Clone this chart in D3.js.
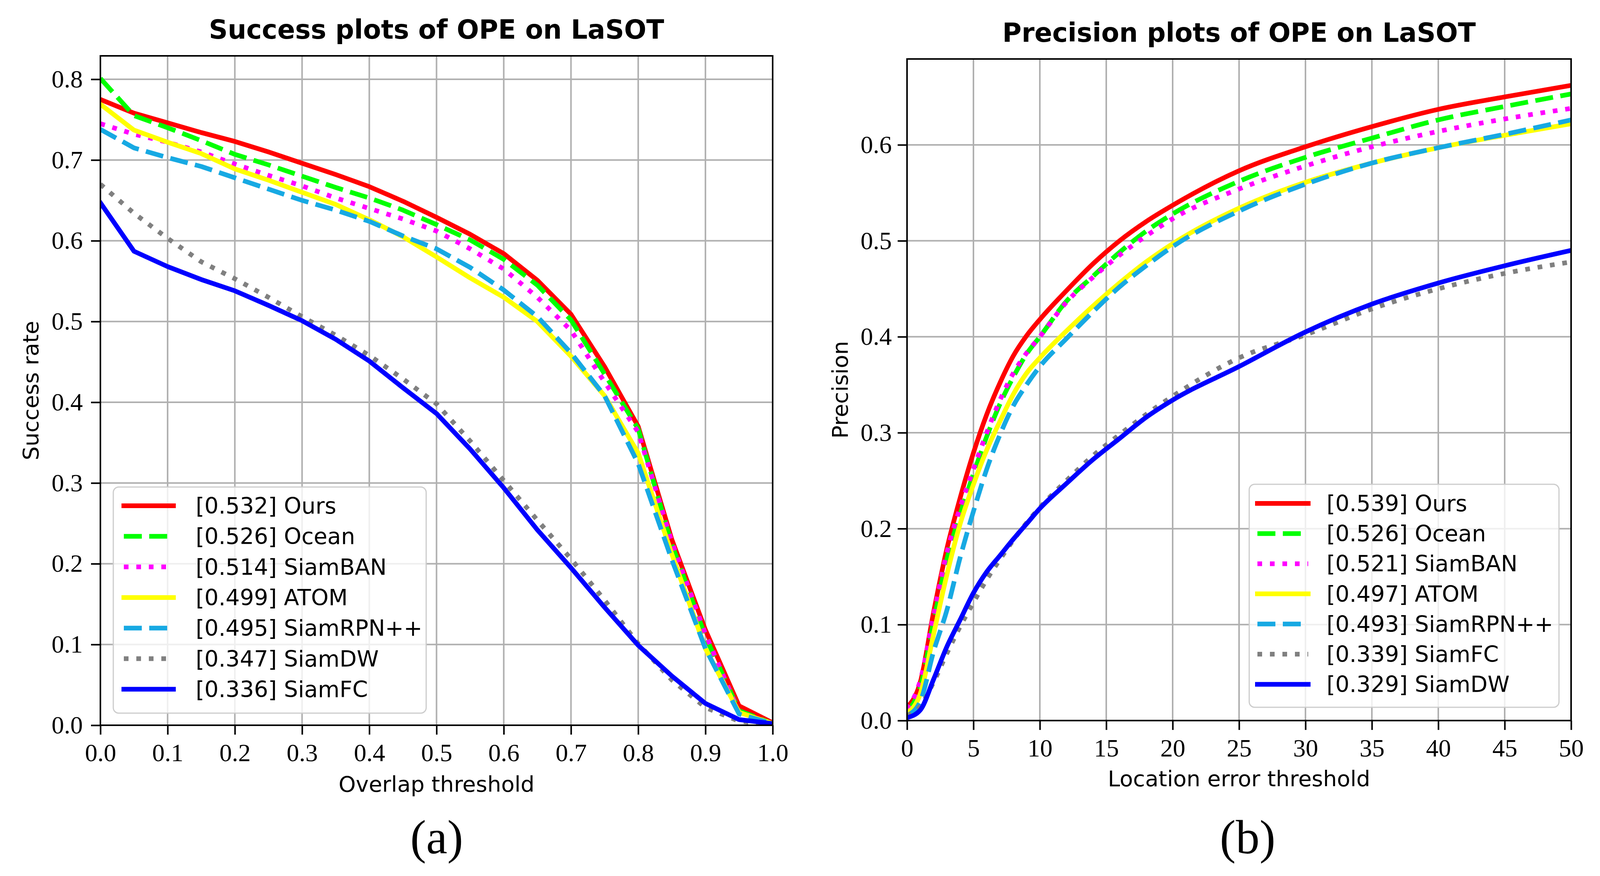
<!DOCTYPE html>
<html>
<head>
<meta charset="utf-8">
<script src="https://cdn.jsdelivr.net/npm/d3@7"></script>
<style>
  html, body { margin: 0; padding: 0; background: #fff; }
  svg { display: block; }
</style>
</head>
<body>
<div id="chart"></div>
<script>
// ---- data: success plot (overlap threshold) ----
const successThresholds = [0, 0.05, 0.1, 0.15, 0.2, 0.25, 0.3, 0.35, 0.4, 0.45, 0.5,
                           0.55, 0.6, 0.65, 0.7, 0.75, 0.8, 0.85, 0.9, 0.95, 1.0];
const successNames  = ["Ours", "Ocean", "SiamBAN", "ATOM", "SiamRPN++", "SiamDW", "SiamFC"];
const successScores = ["0.532", "0.526", "0.514", "0.499", "0.495", "0.347", "0.336"];
const succOurs    = [0.775, 0.758, 0.746, 0.734, 0.723, 0.710, 0.696, 0.682, 0.667, 0.649, 0.629, 0.608, 0.584, 0.551, 0.509, 0.444, 0.370, 0.230, 0.118, 0.024, 0.003];
const succOcean   = [0.801, 0.755, 0.740, 0.724, 0.707, 0.694, 0.680, 0.666, 0.653, 0.638, 0.620, 0.601, 0.577, 0.545, 0.502, 0.435, 0.367, 0.224, 0.110, 0.018, 0.002];
const succSiamBAN = [0.745, 0.732, 0.722, 0.710, 0.695, 0.681, 0.668, 0.653, 0.640, 0.627, 0.612, 0.590, 0.565, 0.530, 0.489, 0.425, 0.363, 0.227, 0.113, 0.016, 0.002];
const succATOM    = [0.769, 0.737, 0.722, 0.708, 0.689, 0.675, 0.660, 0.645, 0.626, 0.605, 0.580, 0.554, 0.530, 0.500, 0.457, 0.408, 0.337, 0.212, 0.095, 0.016, 0.002];
const succSiamRPN = [0.738, 0.715, 0.703, 0.692, 0.678, 0.664, 0.650, 0.638, 0.624, 0.606, 0.590, 0.567, 0.539, 0.506, 0.461, 0.408, 0.324, 0.205, 0.095, 0.014, 0.002];
const succSiamDW  = [0.670, 0.634, 0.603, 0.574, 0.553, 0.530, 0.506, 0.483, 0.458, 0.429, 0.398, 0.352, 0.303, 0.254, 0.206, 0.155, 0.101, 0.056, 0.022, 0.005, 0.001];
const succSiamFC  = [0.647, 0.587, 0.568, 0.552, 0.538, 0.520, 0.501, 0.478, 0.451, 0.418, 0.386, 0.342, 0.294, 0.242, 0.195, 0.146, 0.099, 0.061, 0.027, 0.007, 0.002];
const successXTicks = [0, 0.1, 0.2, 0.3, 0.4, 0.5, 0.6, 0.7, 0.8, 0.9, 1.0];
const successYTicks = [0, 0.1, 0.2, 0.3, 0.4, 0.5, 0.6, 0.7, 0.8];

// ---- data: precision plot (location error threshold) ----
const precThresholds = [0, 1, 2, 3, 4, 5, 6, 7, 8, 9, 10, 12, 14, 16, 18, 20, 25, 30, 35, 40, 45, 50];
const precNames  = ["Ours", "Ocean", "SiamBAN", "ATOM", "SiamRPN++", "SiamFC", "SiamDW"];
const precScores = ["0.539", "0.526", "0.521", "0.497", "0.493", "0.339", "0.329"];
const precOurs    = [0.014, 0.040, 0.113, 0.179, 0.232, 0.279, 0.319, 0.352, 0.380, 0.401, 0.418, 0.448, 0.476, 0.500, 0.520, 0.537, 0.573, 0.598, 0.619, 0.637, 0.650, 0.662];
const precOcean   = [0.010, 0.035, 0.103, 0.168, 0.215, 0.257, 0.296, 0.330, 0.358, 0.382, 0.400, 0.437, 0.463, 0.488, 0.510, 0.528, 0.562, 0.587, 0.607, 0.626, 0.640, 0.653];
const precSiamBAN = [0.012, 0.042, 0.110, 0.175, 0.222, 0.262, 0.300, 0.334, 0.362, 0.383, 0.400, 0.436, 0.462, 0.485, 0.505, 0.523, 0.554, 0.578, 0.598, 0.614, 0.627, 0.638];
const precATOM    = [0.008, 0.028, 0.090, 0.152, 0.205, 0.246, 0.282, 0.312, 0.340, 0.362, 0.378, 0.406, 0.432, 0.456, 0.478, 0.497, 0.534, 0.561, 0.581, 0.597, 0.610, 0.622];
const precSiamRPN = [0.005, 0.020, 0.072, 0.115, 0.170, 0.218, 0.262, 0.298, 0.328, 0.350, 0.369, 0.398, 0.426, 0.452, 0.474, 0.494, 0.531, 0.559, 0.581, 0.597, 0.611, 0.626];
const precSiamFC  = [0.005, 0.015, 0.040, 0.070, 0.098, 0.123, 0.147, 0.168, 0.188, 0.206, 0.222, 0.250, 0.276, 0.298, 0.319, 0.338, 0.378, 0.402, 0.429, 0.450, 0.466, 0.478];
const precSiamDW  = [0.003, 0.011, 0.043, 0.077, 0.105, 0.133, 0.155, 0.172, 0.189, 0.205, 0.221, 0.247, 0.272, 0.294, 0.316, 0.334, 0.369, 0.405, 0.434, 0.456, 0.474, 0.490];
const precXTicks = [0, 5, 10, 15, 20, 25, 30, 35, 40, 45, 50];
const precYTicks = [0, 0.1, 0.2, 0.3, 0.4, 0.5, 0.6];

// line styles, in legend order (same order in both panels)
const STYLES = [
  { color: "#ff0000", dash: null },
  { color: "#00ff00", dash: "46 19" },
  { color: "#ff00ff", dash: "12 20" },
  { color: "#ffff00", dash: null },
  { color: "#17a9e3", dash: "46 19" },
  { color: "#808080", dash: "12 20" },
  { color: "#0000ff", dash: null },
];
const LW = 12;
const SERIF = "'Liberation Serif', 'Times New Roman', serif";
const SANS = "'DejaVu Sans', sans-serif";

const W = 4100, H = 2243;
const svg = d3.select("#chart").append("svg")
  .attr("width", W).attr("height", H)
  .attr("viewBox", `0 0 ${W} ${H}`);
svg.append("rect").attr("width", W).attr("height", H).attr("fill", "#fff");

function panel(cfg) {
  const { box } = cfg;
  const x = d3.scaleLinear().domain(cfg.xDomain).range([box.left, box.right]);
  const y = d3.scaleLinear().domain(cfg.yDomain).range([box.bottom, box.top]);
  const g = svg.append("g");
  const clipId = "clip-" + cfg.id;

  g.append("clipPath").attr("id", clipId).append("rect")
    .attr("x", box.left).attr("y", box.top)
    .attr("width", box.right - box.left).attr("height", box.bottom - box.top);

  // grid
  const grid = g.append("g").attr("stroke", "#b0b0b0").attr("stroke-width", 4);
  grid.selectAll("line.gx").data(cfg.xTicks).join("line").attr("class", "gx")
    .attr("x1", d => x(d)).attr("x2", d => x(d))
    .attr("y1", box.top).attr("y2", box.bottom);
  grid.selectAll("line.gy").data(cfg.yTicks).join("line").attr("class", "gy")
    .attr("x1", box.left).attr("x2", box.right)
    .attr("y1", d => y(d)).attr("y2", d => y(d));

  // curves
  const line = d3.line().x(d => x(d[0])).y(d => y(d[1])).curve(cfg.curve);
  const curves = g.append("g").attr("clip-path", `url(#${clipId})`);
  cfg.series.forEach((vals, i) => {
    const st = STYLES[i];
    curves.append("path")
      .datum(cfg.thresholds.map((t, k) => [t, vals[k]]))
      .attr("d", line)
      .attr("fill", "none")
      .attr("stroke", st.color)
      .attr("stroke-width", LW)
      .attr("stroke-linejoin", "round")
      .attr("stroke-linecap", st.dash ? "butt" : "square")
      .attr("stroke-dasharray", st.dash);
  });

  // axes
  const xAxis = d3.axisBottom(x).tickValues(cfg.xTicks).tickFormat(d3.format(cfg.xFormat))
    .tickSize(24).tickPadding(23);
  const yAxis = d3.axisLeft(y).tickValues(cfg.yTicks).tickFormat(d3.format(".1f"))
    .tickSize(24).tickPadding(cfg.yPad);
  for (const [ax, tr] of [[xAxis, `translate(0,${box.bottom})`], [yAxis, `translate(${box.left},0)`]]) {
    const a = g.append("g").attr("transform", tr).call(ax);
    a.select(".domain").remove();
    a.selectAll(".tick line").attr("stroke", "#000").attr("stroke-width", 4);
    a.selectAll(".tick text").attr("fill", "#000")
      .style("font-family", SERIF).style("font-size", "64px");
  }

  // spines
  g.append("rect")
    .attr("x", box.left).attr("y", box.top)
    .attr("width", box.right - box.left).attr("height", box.bottom - box.top)
    .attr("fill", "none").attr("stroke", "#000").attr("stroke-width", 4);

  // labels
  const cx = (box.left + box.right) / 2;
  g.append("text").attr("x", cx).attr("y", cfg.titleY)
    .attr("text-anchor", "middle")
    .style("font-family", SANS).style("font-weight", "bold").style("font-size", "67px")
    .text(cfg.title);
  g.append("text").attr("x", cx).attr("y", cfg.xLabelY)
    .attr("text-anchor", "middle")
    .style("font-family", SANS).style("font-size", "56px")
    .text(cfg.xLabel);
  g.append("text")
    .attr("transform", `translate(${cfg.yLabelX},${(box.top + box.bottom) / 2}) rotate(-90)`)
    .attr("text-anchor", "middle")
    .style("font-family", SANS).style("font-size", "56px")
    .text(cfg.yLabel);
  g.append("text").attr("x", cfg.capX).attr("y", 2185)
    .attr("text-anchor", "middle")
    .style("font-family", SERIF).style("font-size", "122px")
    .text(cfg.caption);

  // legend
  const L = cfg.legend;
  const lg = g.append("g");
  lg.append("rect")
    .attr("x", L.left).attr("y", L.top)
    .attr("width", L.right - L.left).attr("height", L.bottom - L.top)
    .attr("rx", 14).attr("ry", 14)
    .attr("fill", "#fff").attr("fill-opacity", 0.8)
    .attr("stroke", "#cccccc").attr("stroke-width", 3);
  cfg.names.forEach((name, i) => {
    const st = STYLES[i];
    const ry = L.row0 + i * L.step;
    lg.append("line")
      .attr("x1", L.h0).attr("x2", L.h1).attr("y1", ry).attr("y2", ry)
      .attr("stroke", st.color).attr("stroke-width", LW)
      .attr("stroke-linecap", st.dash ? "butt" : "square")
      .attr("stroke-dasharray", st.dash);
    lg.append("text").attr("x", L.text).attr("y", ry + 20)
      .style("font-family", SANS).style("font-size", "57px")
      .text(`[${cfg.scores[i]}] ${name}`);
  });
}

panel({
  id: "succ",
  box: { left: 257, right: 1978, top: 143, bottom: 1857 },
  xDomain: [0, 1], yDomain: [0, 0.829],
  xTicks: successXTicks, yTicks: successYTicks, xFormat: ".1f", yPad: 21,
  thresholds: successThresholds, curve: d3.curveLinear,
  series: [succOurs, succOcean, succSiamBAN, succATOM, succSiamRPN, succSiamDW, succSiamFC],
  names: successNames, scores: successScores,
  title: "Success plots of OPE on LaSOT", titleY: 99,
  xLabel: "Overlap threshold", xLabelY: 2027,
  yLabel: "Success rate", yLabelX: 98,
  caption: "(a)", capX: 1118,
  legend: { left: 290, right: 1091, top: 1247, bottom: 1826,
            row0: 1295, step: 78.3, h0: 317, h1: 444, text: 501 },
});

panel({
  id: "prec",
  box: { left: 2322, right: 4022, top: 151, bottom: 1845 },
  xDomain: [0, 50], yDomain: [0, 0.6895],
  xTicks: precXTicks, yTicks: precYTicks, xFormat: "d", yPad: 15,
  thresholds: precThresholds, curve: d3.curveMonotoneX,
  series: [precOurs, precOcean, precSiamBAN, precATOM, precSiamRPN, precSiamFC, precSiamDW],
  names: precNames, scores: precScores,
  title: "Precision plots of OPE on LaSOT", titleY: 107,
  xLabel: "Location error threshold", xLabelY: 2013,
  yLabel: "Precision", yLabelX: 2170,
  caption: "(b)", capX: 3194,
  legend: { left: 3198, right: 3991, top: 1240, bottom: 1811,
            row0: 1289, step: 77.2, h0: 3219, h1: 3349, text: 3396 },
});
</script>
</body>
</html>
